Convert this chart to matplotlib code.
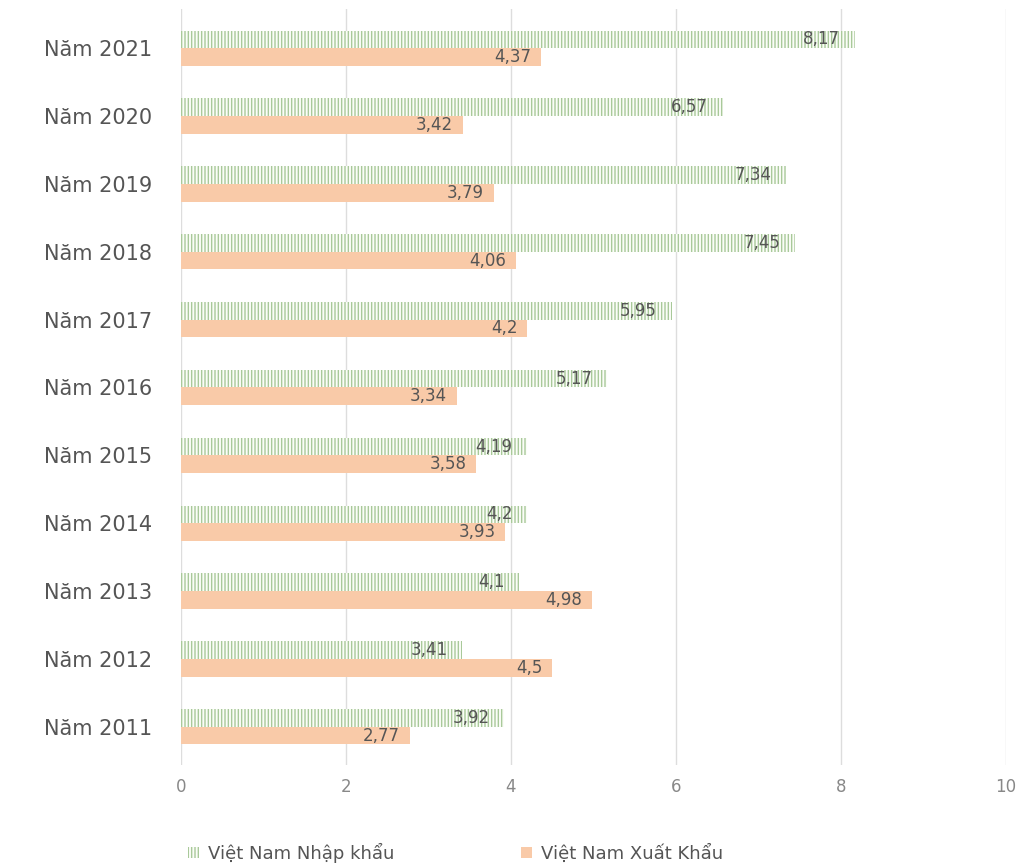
import matplotlib.pyplot as plt
import numpy as np

# data
years = ['Năm 2011', 'Năm 2012', 'Năm 2013', 'Năm 2014', 'Năm 2015', 'Năm 2016',
         'Năm 2017', 'Năm 2018', 'Năm 2019', 'Năm 2020', 'Năm 2021']
nhap_khau = [3.92, 3.41, 4.1, 4.2, 4.19, 5.17, 5.95, 7.45, 7.34, 6.57, 8.17]
xuat_khau = [2.77, 4.5, 4.98, 3.93, 3.58, 3.34, 4.2, 4.06, 3.79, 3.42, 4.37]
xticks = [0, 2, 4, 6, 8, 10]

plt.rcParams['hatch.linewidth'] = 1.0


def fmt(v):
    return ('%g' % v).replace('.', ',')


fig = plt.figure(figsize=(10.24, 8.63), dpi=100)
ax = fig.add_axes([0.177, 0.113, 0.805, 0.876])

y = np.arange(len(years))
h = 0.26

# import bars (hatched green), sit above the export bars
ax.barh(y + h / 2, nhap_khau, height=h, color='#fbfdf8', edgecolor='#a9c99a',
        hatch='|||||', linewidth=0, zorder=3, label='Việt Nam Nhập khẩu')
ax.barh(y - h / 2, xuat_khau, height=h, color='#f9caa8', linewidth=0,
        zorder=3, label='Việt Nam Xuất Khẩu')

for i in range(len(years)):
    ax.text(nhap_khau[i] - 0.18, y[i] + h / 2, fmt(nhap_khau[i]), ha='right', va='center',
            fontsize=12, color='#555555', zorder=4)
    ax.text(xuat_khau[i] - 0.12, y[i] - h / 2, fmt(xuat_khau[i]), ha='right', va='center',
            fontsize=12, color='#555555', zorder=4)

ax.set_xlim(0, 10)
ax.set_ylim(-0.57, 10.57)
ax.set_xticks(xticks)
ax.set_xticklabels([str(t) for t in xticks], fontsize=12, color='#888888')
ax.set_yticks(y)
ax.set_yticklabels(years, fontsize=15, color='#555555')
ax.tick_params(axis='both', length=0)
ax.tick_params(axis='x', pad=9)
ax.tick_params(axis='y', pad=21)

ax.grid(axis='x', color='#dddddd', linewidth=1, zorder=0)
for s in ax.spines.values():
    s.set_visible(False)

fig.legend(loc='center', bbox_to_anchor=(0.445, 0.012), ncol=2, frameon=False,
           fontsize=13, labelcolor='#555555', handlelength=0.6, handleheight=0.6,
           columnspacing=7, handletextpad=0.5, borderaxespad=0, borderpad=0)

fig.savefig('out.png', dpi=100, facecolor='white')
